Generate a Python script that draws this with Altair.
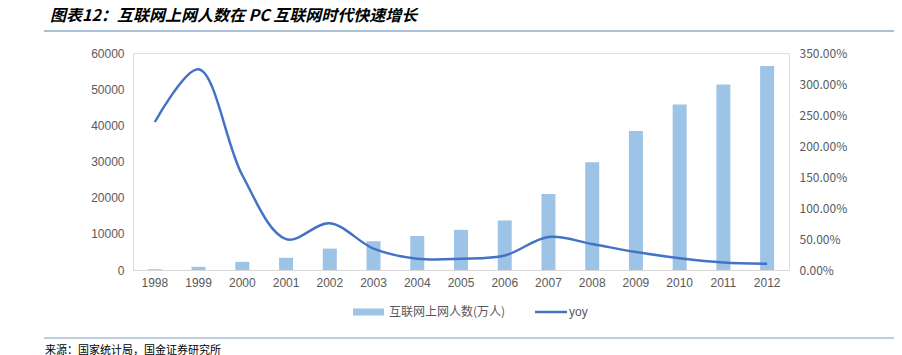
import altair as alt
import pandas as pd

years = [str(y) for y in range(1998, 2013)]
users = [210, 890, 2250, 3370, 5910, 7950, 9400, 11100, 13700, 21000, 29800, 38400, 45730, 51310, 56400]
yoy = [2.387, 3.238, 1.528, 0.498, 0.754, 0.345, 0.182, 0.181, 0.234, 0.533, 0.419, 0.289, 0.191, 0.122, 0.099]

title_text = "图表12：互联网上网人数在 PC 互联网时代快速增长"
source_text = "来源：国家统计局，国金证券研究所"
bar_label = "互联网上网人数(万人)"
line_label = "yoy"

df = pd.DataFrame({"year": years, "users": users, "yoy": yoy})

W, H = 656, 217
PL, PT = 125, 45
PR = 886 - W - PL
PB = 347 - H - PT

BAR_C = "#9DC3E6"
LINE_C = "#4472C4"
GRAY = "#595959"
CJK = "Noto Sans CJK SC"

xenc = alt.X("year:N", sort=years, title=None,
             scale=alt.Scale(paddingInner=0.68, paddingOuter=0.34),
             axis=alt.Axis(labelAngle=0, ticks=False, domainColor="#D9D9D9",
                           labelColor=GRAY, labelFontSize=12, labelPadding=7,
                           labelFont="Liberation Sans"))

bars = alt.Chart(df).mark_bar(color=BAR_C).encode(
    x=xenc,
    y=alt.Y("users:Q", title=None,
            scale=alt.Scale(domain=[0, 60000], nice=False),
            axis=alt.Axis(values=[0, 10000, 20000, 30000, 40000, 50000, 60000],
                          format="d", grid=False, domain=False, ticks=False,
                          labelColor=GRAY, labelFontSize=12, labelPadding=9,
                          labelFont="Liberation Sans")),
)

line = alt.Chart(df).mark_line(color=LINE_C, strokeWidth=2.5, interpolate="catmull-rom").encode(
    x=alt.X("year:N", sort=years),
    y=alt.Y("yoy:Q", title=None,
            scale=alt.Scale(domain=[0, 3.5], nice=False),
            axis=alt.Axis(orient="right", values=[0, 0.5, 1, 1.5, 2, 2.5, 3, 3.5],
                          format=".2%", grid=False, domain=False, ticks=False,
                          labelColor=GRAY, labelFontSize=12, labelPadding=10,
                          labelFont=CJK)),
)

one = alt.Data(values=[{"a": 1}])

title = alt.Chart(one).mark_text(
    text=title_text, align="left", baseline="middle", font=CJK, fontSize=16,
    fontWeight="bold", fontStyle="italic", color="#000000"
).encode(x=alt.value(50 - 133), y=alt.value(16 - 53))

title_rule = alt.Chart(one).mark_rule(color="#A9C0D6", strokeWidth=2).encode(
    x=alt.value(44 - 133), x2=alt.value(902 - 133), y=alt.value(31 - 53))

leg_bar = alt.Chart(one).mark_rule(color=BAR_C, strokeWidth=7).encode(
    x=alt.value(353 - 133), x2=alt.value(384 - 133), y=alt.value(312 - 53))
leg_bar_t = alt.Chart(one).mark_text(
    text=bar_label, align="left", baseline="middle", font=CJK, fontSize=12, color=GRAY
).encode(x=alt.value(389 - 133), y=alt.value(312 - 53))
leg_line = alt.Chart(one).mark_rule(color=LINE_C, strokeWidth=2.5).encode(
    x=alt.value(535 - 133), x2=alt.value(567 - 133), y=alt.value(312 - 53))
leg_line_t = alt.Chart(one).mark_text(
    text=line_label, align="left", baseline="middle", font="Liberation Sans", fontSize=12, color=GRAY
).encode(x=alt.value(569 - 133), y=alt.value(312 - 53))

foot_rule = alt.Chart(one).mark_rule(color="#A9C0D6", strokeWidth=1.5).encode(
    x=alt.value(44 - 133), x2=alt.value(902 - 133), y=alt.value(338 - 53))
foot_t = alt.Chart(one).mark_text(
    text=source_text, align="left", baseline="middle", font=CJK, fontSize=11, color="#000000"
).encode(x=alt.value(45 - 133), y=alt.value(351 - 53))

chart = alt.layer(
    bars, line, title, title_rule, leg_bar, leg_bar_t, leg_line, leg_line_t, foot_rule, foot_t
).resolve_scale(y="independent").properties(
    width=W, height=H,
    autosize=alt.AutoSizeParams(type="none"),
    padding={"left": PL, "top": PT, "right": PR, "bottom": PB},
).configure_view(stroke=None).configure(background="white")

chart.save("out.html", embed_options={"renderer": "svg", "actions": False})
